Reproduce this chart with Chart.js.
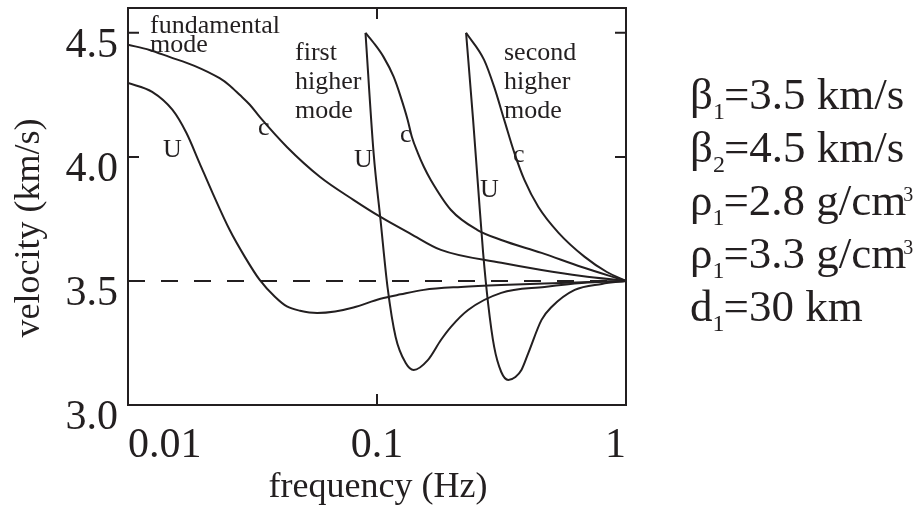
<!DOCTYPE html>
<html>
<head>
<meta charset="utf-8">
<script src="https://cdn.jsdelivr.net/npm/chart.js@4.4.0/dist/chart.umd.min.js"></script>
<style>
  html, body { margin: 0; padding: 0; background: #fff; }
  #wrap { width: 918px; height: 506px; }
</style>
</head>
<body>
<div id="wrap"><canvas id="grafico" width="918" height="506"></canvas></div>
<script>
// eixos
const freqTicks = [0.01, 0.1, 1];
const freqTickLabels = ['0.01', '0.1', '1'];
const velTicks = [3.0, 3.5, 4.0, 4.5];

// modo fundamental (c = fase, U = grupo)
const fundCFreq = [0.01, 0.0122, 0.01466, 0.01849, 0.02333, 0.02559, 0.02808, 0.03085, 0.0338, 0.04347, 0.0591, 0.0804, 0.1033, 0.1365, 0.1806, 0.3155, 0.458, 0.664, 1];
const fundCVel  = [4.452, 4.431, 4.403, 4.367, 4.317, 4.288, 4.250, 4.210, 4.161, 4.040, 3.919, 3.827, 3.758, 3.690, 3.625, 3.573, 3.544, 3.520, 3.5];
const fundUFreq = [0.01, 0.0125, 0.01507, 0.01715, 0.01936, 0.02185, 0.02559, 0.02946, 0.0338, 0.0389, 0.04347, 0.0491, 0.0575, 0.0679, 0.0804, 0.1033, 0.1245, 0.1542, 0.2175, 0.3155, 0.5511, 1];
const fundUVel  = [4.298, 4.262, 4.190, 4.097, 3.976, 3.855, 3.706, 3.597, 3.504, 3.436, 3.397, 3.380, 3.371, 3.377, 3.393, 3.428, 3.446, 3.464, 3.476, 3.484, 3.492, 3.5];

// primeiro modo superior
const firstCFreq = [0.0899, 0.0969, 0.1062, 0.1166, 0.1245, 0.1328, 0.1381, 0.1458, 0.1542, 0.1644, 0.1982, 0.2523, 0.3155, 0.458, 0.664, 1];
const firstCVel  = [4.5, 4.46, 4.403, 4.323, 4.242, 4.149, 4.08, 4.016, 3.96, 3.907, 3.786, 3.706, 3.665, 3.613, 3.556, 3.5];
const firstUFreq = [0.0899, 0.0969, 0.1033, 0.1102, 0.1188, 0.1304, 0.1404, 0.1600, 0.1806, 0.1982, 0.2322, 0.3155, 0.4707, 0.664, 1];
const firstUVel  = [4.5, 4.016, 3.746, 3.476, 3.274, 3.169, 3.141, 3.181, 3.262, 3.315, 3.383, 3.452, 3.476, 3.492, 3.5];

// segundo modo superior
const secondCFreq = [0.2279, 0.2692, 0.2955, 0.3243, 0.3562, 0.3908, 0.4449, 0.5360, 0.6825, 0.8380, 1];
const secondCVel  = [4.5, 4.391, 4.282, 4.149, 4.016, 3.907, 3.798, 3.694, 3.597, 3.536, 3.5];
const secondUFreq = [0.2279, 0.2432, 0.2547, 0.2668, 0.2793, 0.2955, 0.3155, 0.3365, 0.3597, 0.3802, 0.4055, 0.458, 0.5023, 0.6223, 0.8, 1];
const secondUVel  = [4.5, 4.149, 3.879, 3.613, 3.411, 3.234, 3.133, 3.101, 3.113, 3.141, 3.210, 3.343, 3.395, 3.464, 3.488, 3.5];

// velocidade de referência (tracejada)
const refFreq = [0.01, 1];
const refVel  = [3.5, 3.5];

// parâmetros do modelo
const paramSimbolo = ['β', 'β', 'ρ', 'ρ', 'd'];
const paramIndice  = ['1', '2', '1', '1', '1'];
const paramTexto   = ['=3.5 km/s', '=4.5 km/s', '=2.8 g/cm', '=3.3 g/cm', '=30 km'];
const paramExpoente = ['', '', '3', '3', ''];

const serif = '"Liberation Serif", "DejaVu Serif", serif';
const tinta = '#231f20';

const pares = (xs, ys) => xs.map((x, i) => ({ x, y: ys[i] }));

const curva = (xs, ys) => ({
    data: pares(xs, ys),
    borderColor: tinta,
    borderWidth: 2,
    pointRadius: 0,
    cubicInterpolationMode: 'monotone',
    fill: false
});

// anotações dentro do gráfico (posição em pixels)
const rotulos = [
    ['fundamental', 150, 33], ['mode', 150, 52],
    ['first', 295, 60], ['higher', 295, 89], ['mode', 295, 118],
    ['second', 504, 60], ['higher', 504, 89], ['mode', 504, 118],
    ['U', 163, 157], ['U', 354, 167], ['U', 480, 197],
    ['c', 258, 135], ['c', 400, 142], ['c', 513, 162]
];

const moldura = {
    id: 'moldura',
    afterDraw(chart) {
        const { ctx, chartArea: a, scales: { x, y } } = chart;
        ctx.save();
        ctx.strokeStyle = tinta;
        ctx.fillStyle = tinta;
        ctx.lineWidth = 2;
        ctx.strokeRect(a.left, a.top, a.right - a.left, a.bottom - a.top);

        // marcas internas
        ctx.beginPath();
        [4.0, 4.5].forEach(v => {
            const py = y.getPixelForValue(v);
            ctx.moveTo(a.left, py); ctx.lineTo(a.left + 11, py);
            ctx.moveTo(a.right, py); ctx.lineTo(a.right - 11, py);
        });
        const px = x.getPixelForValue(0.1);
        ctx.moveTo(px, a.top); ctx.lineTo(px, a.top + 11);
        ctx.moveTo(px, a.bottom); ctx.lineTo(px, a.bottom - 11);
        ctx.stroke();

        // títulos dos eixos
        ctx.font = `36px ${serif}`;
        ctx.textAlign = 'center';
        ctx.textBaseline = 'middle';
        ctx.fillText('frequency (Hz)', 378, 488);
        ctx.save();
        ctx.translate(30, 228);
        ctx.rotate(-Math.PI / 2);
        ctx.fillText('velocity (km/s)', 0, 0);
        ctx.restore();

        // rótulos das curvas
        ctx.textAlign = 'left';
        ctx.textBaseline = 'alphabetic';
        ctx.font = `26px ${serif}`;
        rotulos.forEach(([t, lx, ly]) => ctx.fillText(t, lx, ly));

        // parâmetros à direita
        const grande = `45px ${serif}`, pequeno = `24px ${serif}`, sobrescrito = `20px ${serif}`;
        paramSimbolo.forEach((s, i) => {
            const base = 109 + i * 53;
            let cx = 690;
            ctx.font = grande;
            ctx.fillText(s, cx, base);
            cx += ctx.measureText(s).width;
            ctx.font = pequeno;
            ctx.fillText(paramIndice[i], cx, base + 10);
            cx += ctx.measureText(paramIndice[i]).width - 1;
            ctx.font = grande;
            ctx.fillText(paramTexto[i], cx, base);
            cx += ctx.measureText(paramTexto[i]).width;
            if (paramExpoente[i]) {
                ctx.font = sobrescrito;
                ctx.fillText(paramExpoente[i], cx - 3, base - 14);
            }
        });
        ctx.restore();
    }
};

new Chart('grafico', {
    type: 'line',
    data: {
        datasets: [
            { ...curva(refFreq, refVel), borderDash: [17, 16] },
            curva(fundCFreq, fundCVel),
            curva(fundUFreq, fundUVel),
            curva(firstCFreq, firstCVel),
            curva(firstUFreq, firstUVel),
            curva(secondCFreq, secondCVel),
            curva(secondUFreq, secondUVel)
        ]
    },
    options: {
        responsive: false,
        animation: false,
        devicePixelRatio: 1,
        layout: { padding: { top: 8, right: 292, left: 0, bottom: 0 } },
        plugins: { legend: { display: false }, tooltip: { enabled: false } },
        scales: {
            x: {
                type: 'logarithmic',
                min: 0.01,
                max: 1,
                afterFit(s) { s.height = 101; s.paddingLeft = 0; s.paddingRight = 0; },
                afterBuildTicks(s) { s.ticks = freqTicks.map(v => ({ value: v })); },
                grid: { display: false },
                border: { display: false },
                ticks: {
                    align: 'inner',
                    autoSkip: false,
                    maxRotation: 0,
                    padding: 8,
                    color: tinta,
                    font: { family: serif, size: 42 },
                    callback: (v, i) => freqTickLabels[i]
                }
            },
            y: {
                min: 3.0,
                max: 4.6,
                afterFit(s) { s.width = 128; s.paddingTop = 0; s.paddingBottom = 0; },
                afterBuildTicks(s) { s.ticks = velTicks.map(v => ({ value: v })); },
                grid: { display: false },
                border: { display: false },
                ticks: {
                    padding: 2,
                    labelOffset: 13,
                    color: tinta,
                    font: { family: serif, size: 42 },
                    callback: (v) => Number(v).toFixed(1)
                }
            }
        }
    },
    plugins: [moldura]
});
</script>
</body>
</html>
